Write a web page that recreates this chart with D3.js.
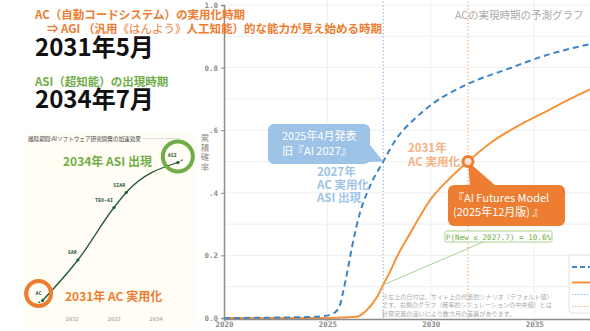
<!DOCTYPE html>
<html>
<head>
<meta charset="utf-8">
<script src="https://cdn.jsdelivr.net/npm/d3@7"></script>
<style>
  html, body { margin: 0; padding: 0; background: #fff; }
  svg { display: block; }
</style>
</head>
<body>
<div id="chart"></div>
<script>
// 旧『AI 2027』(2025年4月) の累積確率
const oldYears = [2020, 2022, 2024, 2024.8, 2025.3, 2025.6, 2025.75, 2026.0, 2026.2, 2026.57, 2027.05, 2027.7, 2028.36, 2029.2, 2030.1, 2031.7, 2033.7, 2035.6, 2037.7];
const oldProb  = [0, 0.001, 0.003, 0.006, 0.015, 0.04, 0.08, 0.16, 0.23, 0.335, 0.42, 0.50, 0.575, 0.635, 0.685, 0.745, 0.795, 0.84, 0.875];

// AI Futures Model (2025年12月版) の累積確率
const newYears = [2020, 2024, 2025.5, 2026.4, 2026.9, 2027.4, 2027.7, 2028.0, 2028.36, 2029.0, 2030.0, 2030.9, 2031.8, 2032.9, 2034.4, 2035.5, 2036.6, 2037.7];
const newProb  = [0, 0, 0.001, 0.004, 0.025, 0.067, 0.106, 0.144, 0.195, 0.27, 0.38, 0.445, 0.50, 0.56, 0.62, 0.657, 0.695, 0.73];

// 中央値
const oldMedian = 2027.7;
const newMedian = 2031.8;
const pNewAtOld = 0.106;

const xTicks = [2020, 2025, 2030, 2035];
const yTicks = [0, 0.2, 0.4, 0.6, 0.8, 1.0];
const yTickLabels = ["0.0", "0.2", ".4", ".6", "0.8", "1.0"];

// 左下の挿入図：離陸期間のマイルストーン
const stageNames = ["AC", "SAR", "TEO-AI", "SIAR", "ASI"];
const stageYears = [2031.3, 2032.14, 2033.0, 2033.29, 2034.52];
const stageLevel = [0.03, 0.30, 0.65, 0.75, 0.95];
const insetTicks = [2032, 2033, 2034];

const width = 590, height = 331;
const colors = {
    orange: "#ed7d31",
    lightOrange: "#f4b183",
    line: "#f7923a",
    blue: "#3d85c6",
    lightBlue: "#9dc3e6",
    green: "#70ad47",
    paleGreen: "#a9d18e",
    grid: "#efefef",
    axis: "#8c8c8c",
    darkGreen: "#1f5a32"
};
const jp = "'Noto Sans CJK JP', 'Noto Sans', sans-serif";
const mono = "'DejaVu Sans Mono', monospace";

const svg = d3.select("#chart").append("svg")
    .attr("width", width).attr("height", height)
    .style("font-family", jp);

const x = d3.scaleLinear().domain([2020, 2037.7]).range([224, 590]);
const y = d3.scaleLinear().domain([0, 1]).range([318, 5]);

// グリッド
svg.append("g").selectAll("line")
    .data(d3.range(0.1, 1.01, 0.1))
    .join("line")
    .attr("x1", x(2020)).attr("x2", width)
    .attr("y1", d => y(d)).attr("y2", d => y(d))
    .attr("stroke", colors.grid).attr("stroke-width", 1);

svg.append("g").selectAll("line")
    .data(xTicks.slice(1))
    .join("line")
    .attr("x1", d => x(d)).attr("x2", d => x(d))
    .attr("y1", y(0)).attr("y2", 0)
    .attr("stroke", colors.grid).attr("stroke-width", 1);

// 中央値の点線
svg.append("line")
    .attr("x1", x(oldMedian)).attr("x2", x(oldMedian))
    .attr("y1", y(0)).attr("y2", 0)
    .attr("stroke", colors.lightBlue).attr("stroke-width", 1.2)
    .attr("stroke-dasharray", "1.5,2");
svg.append("line")
    .attr("x1", x(newMedian)).attr("x2", x(newMedian))
    .attr("y1", y(0)).attr("y2", 0)
    .attr("stroke", colors.lightOrange).attr("stroke-width", 1.2)
    .attr("stroke-dasharray", "1.5,2");

// 曲線
const line = d3.line().x(d => x(d[0])).y(d => y(d[1])).curve(d3.curveMonotoneX);

svg.append("path")
    .datum(d3.zip(newYears, newProb))
    .attr("d", line)
    .attr("fill", "none").attr("stroke", colors.line).attr("stroke-width", 2);

svg.append("path")
    .datum(d3.zip(oldYears, oldProb))
    .attr("d", line)
    .attr("fill", "none").attr("stroke", colors.blue).attr("stroke-width", 2)
    .attr("stroke-dasharray", "6,4");

// 軸
const xAxis = svg.append("g")
    .attr("transform", `translate(0,${y(0) + 1})`)
    .call(d3.axisBottom(x).tickValues(xTicks).tickFormat(d3.format("d")).tickSize(2).tickPadding(1));
const yAxis = svg.append("g")
    .attr("transform", `translate(${x(2020)},0)`)
    .call(d3.axisLeft(y).tickValues(yTicks).tickFormat((d, i) => yTickLabels[i]).tickSize(3).tickPadding(3));

[xAxis, yAxis].forEach(g => {
    g.select(".domain").attr("stroke", colors.axis).attr("stroke-width", 1.5);
    g.selectAll(".tick line").attr("stroke", colors.axis);
    g.selectAll("text")
        .attr("fill", colors.axis)
        .style("font-family", mono)
        .style("font-size", "7.5px")
        .style("font-weight", "bold");
});

// 縦軸ラベル
const ylab = svg.append("text")
    .attr("fill", colors.axis)
    .style("font-size", "8.5px")
    .attr("text-anchor", "middle");
"累積確率".split("").forEach((c, i) => {
    ylab.append("tspan").attr("x", 205).attr("y", 141 + i * 9.5).text(c);
});

// グラフタイトル
svg.append("text")
    .attr("x", 455).attr("y", 19)
    .attr("fill", "#aaa")
    .style("font-size", "10.5px")
    .text("ACの実現時期の予測グラフ");

// 旧『AI 2027』吹き出し
const bx = x(oldMedian), by = y(0.5);
svg.append("path")
    .attr("d", `M352,163 L366,140 L${bx},${by} Z`)
    .attr("fill", colors.lightBlue);
svg.append("rect")
    .attr("x", 268).attr("y", 124).attr("width", 102).attr("height", 40).attr("rx", 6)
    .attr("fill", colors.lightBlue);
svg.append("text")
    .attr("x", 282).attr("y", 140)
    .attr("fill", "#fff").style("font-size", "11px")
    .text("2025年4月発表");
svg.append("text")
    .attr("x", 282).attr("y", 155)
    .attr("fill", "#fff").style("font-size", "11px")
    .text("旧『AI 2027』");

["2027年", "AC 実用化", "ASI 出現"].forEach((t, i) => {
    svg.append("text")
        .attr("x", 317).attr("y", 176 + i * 13)
        .attr("fill", colors.lightBlue)
        .style("font-size", "11.5px").style("font-weight", "bold")
        .text(t);
});

// AI Futures Model 吹き出し
const ox = x(newMedian), oy = y(0.5);
svg.append("path")
    .attr("d", `M${ox},${oy} L470,187 L497,187 Z`)
    .attr("fill", colors.orange);
svg.append("rect")
    .attr("x", 448).attr("y", 185).attr("width", 117).attr("height", 41).attr("rx", 6)
    .attr("fill", colors.orange);
svg.append("text")
    .attr("x", 453).attr("y", 202)
    .attr("fill", "#fff").style("font-size", "11px")
    .text("『AI Futures Model");
svg.append("text")
    .attr("x", 453).attr("y", 215.5)
    .attr("fill", "#fff").style("font-size", "11px")
    .text("(2025年12月版) 』");

svg.append("circle")
    .attr("cx", ox).attr("cy", oy).attr("r", 5)
    .attr("fill", "#fde3cf").attr("stroke", colors.orange).attr("stroke-width", 3);

["2031年", "AC 実用化"].forEach((t, i) => {
    svg.append("text")
        .attr("x", 408).attr("y", 152 + i * 14)
        .attr("fill", colors.lightOrange)
        .style("font-size", "11.5px").style("font-weight", "bold")
        .text(t);
});

// P(New ≤ 2027.7) 注記
svg.append("line")
    .attr("x1", x(oldMedian)).attr("y1", y(pNewAtOld))
    .attr("x2", 483).attr("y2", 242)
    .attr("stroke", colors.paleGreen).attr("stroke-width", 1);
svg.append("rect")
    .attr("x", 445).attr("y", 231).attr("width", 107).attr("height", 11).attr("rx", 1.5)
    .attr("fill", "#fff").attr("stroke", colors.paleGreen).attr("stroke-width", 1);
svg.append("text")
    .attr("x", 498.5).attr("y", 239.5)
    .attr("text-anchor", "middle")
    .attr("fill", colors.green)
    .style("font-family", mono).style("font-size", "7.6px")
    .text(`P(New ≤ ${oldMedian}) = ${(pNewAtOld * 100).toFixed(1)}%`);

// 凡例
const legend = svg.append("g");
legend.append("rect")
    .attr("x", 569).attr("y", 255).attr("width", 30).attr("height", 58).attr("rx", 3)
    .attr("fill", "#fff").attr("stroke", "#e2e2e2");
const legendItems = [
    { c: colors.blue, dash: "5,3", w: 2, yy: 267 },
    { c: colors.line, dash: null, w: 2, yy: 282.5 },
    { c: colors.lightBlue, dash: "1.5,1.5", w: 1.2, yy: 294.5 },
    { c: colors.lightOrange, dash: "1.5,1.5", w: 1.2, yy: 306.5 }
];
legendItems.forEach(d => {
    legend.append("line")
        .attr("x1", 572).attr("x2", 590).attr("y1", d.yy).attr("y2", d.yy)
        .attr("stroke", d.c).attr("stroke-width", d.w)
        .attr("stroke-dasharray", d.dash);
});

// 注記テキスト
["※左上の日付は、サイト上の代表的シナリオ（デフォルト値）",
 "です。右側のグラフ（確率的シミュレーションの中央値）とは",
 "計算定義の違いにより数カ月の差異があります。"].forEach((t, i) => {
    svg.append("text")
        .attr("x", 382).attr("y", 299 + i * 8.3)
        .attr("fill", "#aaa")
        .style("font-size", "6.1px")
        .text(t);
});

// 左上の見出し
svg.append("text")
    .attr("x", 35).attr("y", 19)
    .attr("fill", colors.orange)
    .style("font-size", "11.5px").style("font-weight", "bold")
    .text("AC（自動コードシステム）の実用化時期");
const l2 = svg.append("text")
    .attr("x", 47).attr("y", 33)
    .attr("fill", colors.orange)
    .style("font-size", "11.5px").style("font-weight", "bold");
l2.append("tspan").text("⇒ AGI （汎用");
l2.append("tspan").style("font-weight", "normal").text("《はんよう》");
l2.append("tspan").text("人工知能）的な能力が見え始める時期");

svg.append("text")
    .attr("x", 35).attr("y", 56)
    .attr("fill", "#111")
    .style("font-size", "24px").style("font-weight", "bold")
    .text("2031年5月");

svg.append("text")
    .attr("x", 35).attr("y", 86)
    .attr("fill", colors.green)
    .style("font-size", "11.5px").style("font-weight", "bold")
    .text("ASI（超知能）の出現時期");

svg.append("text")
    .attr("x", 35).attr("y", 108)
    .attr("fill", "#111")
    .style("font-size", "24px").style("font-weight", "bold")
    .text("2034年7月");

// 挿入図
const ix = d3.scaleLinear().domain([2032, 2034]).range([72, 156]);
const iy = d3.scaleLinear().domain([0, 1]).range([305, 155]);

svg.append("rect")
    .attr("x", 25).attr("y", 133).attr("width", 170).attr("height", 194)
    .attr("fill", "#fffdf4");
svg.append("text")
    .attr("x", 28).attr("y", 140.5)
    .attr("fill", "#444")
    .style("font-size", "5.6px")
    .text("離陸期間:AIソフトウェア研究開発の加速効果");
svg.append("line")
    .attr("x1", 143).attr("x2", 180).attr("y1", 138.5).attr("y2", 138.5)
    .attr("stroke", "#e2e2e2").attr("stroke-width", 1);

svg.append("g").selectAll("text")
    .data(insetTicks)
    .join("text")
    .attr("x", d => ix(d)).attr("y", 320.5)
    .attr("text-anchor", "middle")
    .attr("fill", "#999")
    .style("font-family", mono).style("font-size", "5.5px")
    .text(d => d);

const stages = d3.zip(stageYears, stageLevel);
const iline = d3.line().x(d => ix(d[0])).y(d => iy(d[1])).curve(d3.curveMonotoneX);
const first = stages[0], last = stages[stages.length - 1];

svg.append("path")
    .datum([[first[0] - 0.1, first[1] - 0.015], first])
    .attr("d", iline)
    .attr("fill", "none").attr("stroke", colors.darkGreen).attr("stroke-width", 1.3)
    .attr("stroke-dasharray", "2,1.5");
svg.append("path")
    .datum([last, [last[0] + 0.12, last[1] + 0.02]])
    .attr("d", iline)
    .attr("fill", "none").attr("stroke", colors.darkGreen).attr("stroke-width", 1.3)
    .attr("stroke-dasharray", "2,1.5");
svg.append("path")
    .datum(stages)
    .attr("d", iline)
    .attr("fill", "none").attr("stroke", colors.darkGreen).attr("stroke-width", 1.3);

svg.append("g").selectAll("circle")
    .data(stages)
    .join("circle")
    .attr("cx", d => ix(d[0])).attr("cy", d => iy(d[1])).attr("r", 1.6)
    .attr("fill", colors.darkGreen);

svg.append("g").selectAll("text")
    .data(stages)
    .join("text")
    .attr("x", d => ix(d[0]) - 1).attr("y", d => iy(d[1]) - 6)
    .attr("text-anchor", "end")
    .attr("fill", "#2d5a3a")
    .style("font-family", mono).style("font-size", "5px").style("font-weight", "bold")
    .text((d, i) => stageNames[i]);

// 強調の輪
svg.append("circle")
    .attr("cx", ix(last[0])).attr("cy", iy(last[1]) - 6).attr("r", 15)
    .attr("fill", "none").attr("stroke", colors.green).attr("stroke-width", 4);
svg.append("circle")
    .attr("cx", ix(first[0]) - 4).attr("cy", iy(first[1]) - 7).attr("r", 12.5)
    .attr("fill", "none").attr("stroke", colors.orange).attr("stroke-width", 4);

svg.append("text")
    .attr("x", 63).attr("y", 166)
    .attr("fill", colors.green)
    .style("font-size", "12px").style("font-weight", "bold")
    .text("2034年 ASI 出現");
svg.append("text")
    .attr("x", 65).attr("y", 301)
    .attr("fill", colors.orange)
    .style("font-size", "12px").style("font-weight", "bold")
    .text("2031年 AC 実用化");
</script>
</body>
</html>
